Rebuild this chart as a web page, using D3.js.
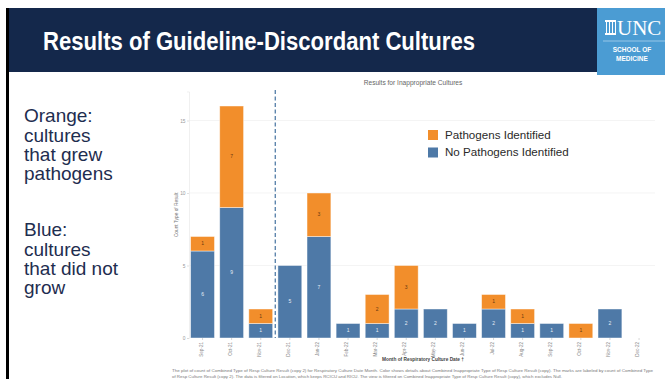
<!DOCTYPE html>
<html>
<head>
  <meta charset="utf-8">
  <script src="https://d3js.org/d3.v7.min.js"></script>
  <style>
    body { margin: 0; background: #fff; font-family: 'Liberation Sans', Arial, sans-serif; }
  </style>
</head>
<body>
  <div id="slide"></div>
  <script>
    // data
    var months = ["Sep-21", "Oct-21", "Nov-21", "Dec-21", "Jan-22", "Feb-22", "Mar-22", "Apr-22",
                  "May-22", "Jun-22", "Jul-22", "Aug-22", "Sep-22", "Oct-22", "Nov-22", "Dec-22"];
    var noPathogens = [6, 9, 1, 5, 7, 1, 1, 2, 2, 1, 2, 1, 1, 0, 2, 0];
    var pathogens   = [1, 7, 1, 0, 3, 0, 2, 3, 0, 0, 1, 1, 0, 1, 0, 0];
    var yTicks = [0, 5, 10, 15];
    var seriesNames = ["No Pathogens Identified", "Pathogens Identified"];
    var colors = { "No Pathogens Identified": "#4e79a7", "Pathogens Identified": "#f28e2b" };

    var W = 665, H = 379;
    var svg = d3.select("#slide").append("svg")
      .attr("width", W).attr("height", H);

    // slide frame and header
    svg.append("rect").attr("x", 6).attr("y", 8).attr("width", 3).attr("height", H - 8).attr("fill", "#000");
    svg.append("rect").attr("x", 9).attr("y", 8).attr("width", 590).attr("height", 64).attr("fill", "#14284b");
    svg.append("text")
      .attr("x", 43).attr("y", 50)
      .attr("fill", "#fff")
      .style("font-family", "'Liberation Sans Narrow', 'Liberation Sans', Arial, sans-serif")
      .style("font-weight", "bold")
      .style("font-size", "26px")
      .attr("textLength", 432).attr("lengthAdjust", "spacingAndGlyphs")
      .text("Results of Guideline-Discordant Cultures");

    // UNC logo box
    var logo = svg.append("g");
    logo.append("rect").attr("x", 597).attr("y", 8).attr("width", 68).attr("height", 67).attr("fill", "#4b9cd3");
    // little well icon
    logo.append("rect").attr("x", 605).attr("y", 20).attr("width", 11).attr("height", 2).attr("fill", "#fff");
    logo.append("rect").attr("x", 605).attr("y", 33).attr("width", 11).attr("height", 2).attr("fill", "#fff");
    [606, 609, 612, 615].forEach(function (cx) {
      logo.append("rect").attr("x", cx).attr("y", 22).attr("width", 1).attr("height", 11).attr("fill", "#fff");
    });
    logo.append("text").attr("x", 617).attr("y", 35)
      .attr("fill", "#fff")
      .style("font-family", "'Liberation Serif', 'DejaVu Serif', serif")
      .style("font-size", "21px")
      .text("UNC");
    logo.append("line").attr("x1", 603).attr("x2", 665).attr("y1", 41).attr("y2", 41)
      .attr("stroke", "#a9d2ee").attr("stroke-width", 0.8);
    logo.selectAll("text.sm").data(["SCHOOL OF", "MEDICINE"]).enter().append("text")
      .attr("x", 632).attr("y", function (d, i) { return 52 + i * 9; })
      .attr("text-anchor", "middle")
      .attr("fill", "#fff")
      .style("font-size", "6.5px").style("font-weight", "bold")
      .text(function (d) { return d; });

    // left-hand notes
    var notes = ["Orange:", "cultures", "that grew", "pathogens", "", "", "Blue:", "cultures", "that did not", "grow"];
    var lineY = [122, 141.5, 161, 180, 0, 0, 236, 255.5, 275, 294];
    svg.selectAll("text.note").data(notes).enter().append("text")
      .attr("class", "note")
      .attr("x", 24)
      .attr("y", function (d, i) { return lineY[i]; })
      .attr("fill", "#1e2d4f")
      .style("font-size", "19px")
      .text(function (d) { return d; });

    // chart
    var x = d3.scaleBand()
      .domain(months)
      .range([188, 653.6])
      .paddingInner(0.18)
      .paddingOuter(0.09);
    var y = d3.scaleLinear()
      .domain([0, 17])
      .range([338, 91.5]);
    var axisX = 189;

    // title
    svg.append("text")
      .attr("x", 413).attr("y", 85)
      .attr("text-anchor", "middle")
      .attr("fill", "#666")
      .style("font-size", "6.6px")
      .text("Results for Inappropriate Cultures");

    // grid
    svg.append("g").selectAll("line").data(yTicks.filter(function (t) { return t > 0; })).enter().append("line")
      .attr("x1", axisX).attr("x2", 655)
      .attr("y1", function (d) { return y(d); }).attr("y2", function (d) { return y(d); })
      .attr("stroke", "#efefef").attr("stroke-width", 0.7);

    // y axis
    var yAxis = svg.append("g")
      .attr("transform", "translate(" + axisX + ",0)")
      .call(d3.axisLeft(y).tickValues(yTicks).tickSize(2).tickPadding(1.5));
    yAxis.select(".domain").attr("stroke", "#e6e6e6").attr("stroke-width", 0.6);
    yAxis.selectAll(".tick line").attr("stroke", "#ccc").attr("stroke-width", 0.6);
    yAxis.selectAll("text").attr("fill", "#999").style("font-size", "4.8px");

    svg.append("text")
      .attr("transform", "translate(178," + y(8.5) + ") rotate(-90)")
      .attr("text-anchor", "middle")
      .attr("fill", "#777")
      .style("font-size", "4.8px")
      .text("Count Type of Result");

    // stacked bars
    var rows = months.map(function (m, i) {
      return { month: m, "No Pathogens Identified": noPathogens[i], "Pathogens Identified": pathogens[i] };
    });
    var stacked = d3.stack().keys(seriesNames)(rows);

    var layers = svg.append("g").selectAll("g")
      .data(stacked).enter().append("g")
      .attr("fill", function (d) { return colors[d.key]; });

    layers.selectAll("rect")
      .data(function (d) { return d.filter(function (p) { return p[1] > p[0]; }); })
      .enter().append("rect")
      .attr("x", function (d) { return x(d.data.month); })
      .attr("y", function (d) { return y(d[1]); })
      .attr("width", x.bandwidth())
      .attr("height", function (d) { return y(d[0]) - y(d[1]); })
      .attr("stroke", "rgba(255,255,255,0.55)")
      .attr("stroke-width", 0.8);

    layers.selectAll("text")
      .data(function (d) {
        return d.filter(function (p) { return p[1] > p[0]; }).map(function (p) { p.key = d.key; return p; });
      })
      .enter().append("text")
      .attr("x", function (d) { return x(d.data.month) + x.bandwidth() / 2; })
      .attr("y", function (d) { return (y(d[0]) + y(d[1])) / 2 + 1.7; })
      .attr("text-anchor", "middle")
      .attr("fill", function (d) { return d.key === "Pathogens Identified" ? "#6b3a10" : "#e6edf5"; })
      .style("font-size", "5px")
      .text(function (d) { return d[1] - d[0]; });

    // dashed divider between Nov-21 and Dec-21
    var divX = x("Dec-21") - x.step() * x.paddingInner() / 2;
    svg.append("line")
      .attr("x1", divX).attr("x2", divX)
      .attr("y1", 90).attr("y2", y(0))
      .attr("stroke", "#5f86ad").attr("stroke-width", 1.4)
      .attr("stroke-dasharray", "4,2.5");

    // x axis
    var xAxis = svg.append("g")
      .attr("transform", "translate(0," + y(0) + ")")
      .call(d3.axisBottom(x).tickSize(2).tickSizeOuter(0));
    xAxis.select(".domain").remove();
    xAxis.selectAll(".tick line").attr("stroke", "#bbb").attr("stroke-width", 0.6);
    xAxis.selectAll("text")
      .attr("transform", "translate(-1.5,4) rotate(-90)")
      .attr("x", 0).attr("y", 0).attr("dy", "0.32em")
      .style("text-anchor", "end")
      .attr("fill", "#888")
      .style("font-size", "4.6px");

    svg.append("text")
      .attr("x", 423).attr("y", 360.5)
      .attr("text-anchor", "middle")
      .attr("fill", "#444")
      .style("font-size", "4.8px").style("font-weight", "bold")
      .text("Month of Respiratory Culture Date \u2020");

    // legend
    var legend = svg.append("g").selectAll("g")
      .data(["Pathogens Identified", "No Pathogens Identified"]).enter().append("g")
      .attr("transform", function (d, i) { return "translate(428," + (130 + i * 17.5) + ")"; });
    legend.append("rect").attr("width", 10).attr("height", 10)
      .attr("fill", function (d) { return colors[d]; });
    legend.append("text").attr("x", 17).attr("y", 8.8)
      .attr("fill", "#2a2a2a")
      .style("font-size", "11.6px")
      .text(function (d) { return d; });

    // footnote
    var foot = [
      "The plot of count of Combined Type of Resp Culture Result (copy 2) for Respiratory Culture Date Month.  Color shows details about Combined Inappropriate Type of Resp Culture Result (copy).  The marks are labeled by count of Combined Type",
      "of Resp Culture Result (copy 2). The data is filtered on Location, which keeps RCICU and RICU. The view is filtered on Combined Inappropriate Type of Resp Culture Result (copy), which excludes Null."
    ];
    var footLen = [481, 390];
    svg.selectAll("text.foot").data(foot).enter().append("text")
      .attr("class", "foot")
      .attr("x", 172)
      .attr("y", function (d, i) { return 372 + i * 6; })
      .attr("fill", "#777")
      .style("font-size", "4.3px")
      .attr("textLength", function (d, i) { return footLen[i]; })
      .attr("lengthAdjust", "spacingAndGlyphs")
      .text(function (d) { return d; });
  </script>
</body>
</html>
